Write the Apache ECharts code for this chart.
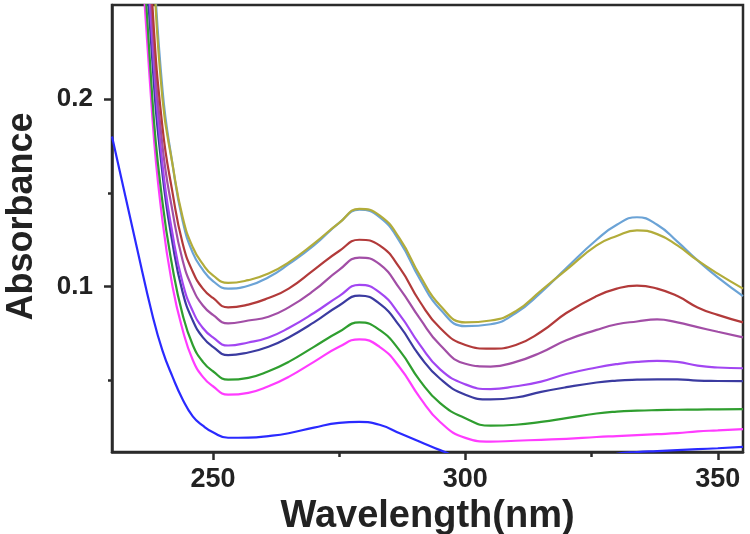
<!DOCTYPE html>
<html>
<head>
<meta charset="utf-8">
<script src="https://cdn.jsdelivr.net/npm/echarts@6/dist/echarts.min.js"></script>
<style>html,body{margin:0;padding:0;background:#fff}#c{width:750px;height:534px}</style>
</head>
<body>
<div id="c"></div>
<script>
// Wavelength sample points (nm)
const wavelengths = [230, 235, 238, 240, 242, 244, 246, 248, 250, 253, 257, 261, 265, 270, 275, 279, 283, 287, 291, 295, 300, 305, 310, 315, 320, 326, 330, 334, 338, 342, 346, 350, 355];

// Absorbance spectra
const olive    = [0.80, 0.42, 0.28, 0.200, 0.165, 0.137, 0.121, 0.112, 0.106, 0.102, 0.1035, 0.107, 0.113, 0.123, 0.134, 0.1415, 0.138, 0.1256, 0.106, 0.090, 0.081, 0.082, 0.087, 0.098, 0.109, 0.122, 0.127, 0.130, 0.128, 0.122, 0.114, 0.107, 0.099];
const skyblue  = [0.80, 0.43, 0.285, 0.205, 0.165, 0.135, 0.118, 0.109, 0.103, 0.099, 0.1005, 0.105, 0.112, 0.122, 0.134, 0.141, 0.137, 0.124, 0.104, 0.088, 0.079, 0.080, 0.086, 0.097, 0.110, 0.125, 0.133, 0.137, 0.133, 0.124, 0.114, 0.105, 0.095];
const darkred  = [0.78, 0.40, 0.25, 0.185, 0.150, 0.123, 0.108, 0.099, 0.094, 0.089, 0.0905, 0.094, 0.099, 0.109, 0.119, 0.125, 0.122, 0.110, 0.092, 0.078, 0.069, 0.067, 0.069, 0.076, 0.086, 0.095, 0.099, 0.1006, 0.099, 0.095, 0.089, 0.085, 0.081];
const mauve    = [0.76, 0.39, 0.24, 0.175, 0.140, 0.114, 0.099, 0.090, 0.085, 0.0805, 0.082, 0.084, 0.089, 0.098, 0.109, 0.1155, 0.112, 0.099, 0.083, 0.069, 0.059, 0.0575, 0.060, 0.065, 0.0715, 0.077, 0.080, 0.0815, 0.0826, 0.081, 0.0785, 0.076, 0.073];
const violet   = [0.74, 0.37, 0.23, 0.165, 0.128, 0.102, 0.087, 0.078, 0.073, 0.0687, 0.0703, 0.073, 0.078, 0.086, 0.095, 0.101, 0.097, 0.085, 0.069, 0.056, 0.048, 0.0455, 0.047, 0.0495, 0.0535, 0.057, 0.0588, 0.060, 0.0605, 0.060, 0.058, 0.057, 0.0566];
const navy     = [0.72, 0.36, 0.22, 0.160, 0.123, 0.097, 0.082, 0.073, 0.068, 0.0636, 0.065, 0.068, 0.073, 0.081, 0.090, 0.0953, 0.091, 0.079, 0.063, 0.051, 0.0425, 0.040, 0.041, 0.044, 0.0465, 0.049, 0.050, 0.0505, 0.0507, 0.0507, 0.050, 0.0498, 0.0497];
const green    = [0.70, 0.35, 0.20, 0.145, 0.110, 0.085, 0.069, 0.060, 0.055, 0.0505, 0.0515, 0.055, 0.060, 0.068, 0.076, 0.081, 0.077, 0.066, 0.050, 0.038, 0.030, 0.026, 0.0265, 0.028, 0.030, 0.0325, 0.0335, 0.034, 0.0343, 0.0345, 0.0346, 0.0347, 0.0348];
const magenta  = [0.68, 0.33, 0.19, 0.135, 0.100, 0.077, 0.061, 0.052, 0.047, 0.0425, 0.0435, 0.047, 0.052, 0.060, 0.068, 0.072, 0.068, 0.057, 0.041, 0.028, 0.0195, 0.0175, 0.018, 0.0185, 0.019, 0.020, 0.0205, 0.021, 0.0215, 0.022, 0.023, 0.0235, 0.0242];
const blue     = [0.180, 0.120, 0.085, 0.066, 0.052, 0.040, 0.031, 0.026, 0.0225, 0.0196, 0.0197, 0.0205, 0.022, 0.025, 0.0275, 0.028, 0.0265, 0.022, 0.0175, 0.013, 0.008, 0.005, 0.004, 0.004, 0.005, 0.008, 0.011, 0.012, 0.0125, 0.013, 0.0135, 0.014, 0.0147];

const seriesList = [
  {name: 'blue', values: blue, color: '#2a2aff'},
  {name: 'magenta', values: magenta, color: '#ff3cff'},
  {name: 'green', values: green, color: '#2f9e2f'},
  {name: 'navy', values: navy, color: '#3b3ba0'},
  {name: 'violet', values: violet, color: '#a246f2'},
  {name: 'mauve', values: mauve, color: '#a24ea6'},
  {name: 'darkred', values: darkred, color: '#b23a3a'},
  {name: 'skyblue', values: skyblue, color: '#6ba3d6'},
  {name: 'olive', values: olive, color: '#b2ac3a'}
];

const xMajor = [250, 300, 350];
const xMinor = [275, 325];
const yMajor = [0.1, 0.2];
const yMinor = [0.05, 0.15];

const FONT = '"Liberation Sans", Arial, sans-serif';
const AX = '#2b2b2b';

const chart = echarts.init(document.getElementById('c'), null, {renderer: 'canvas'});
chart.setOption({
  animation: false,
  backgroundColor: '#fff',
  grid: {left: 112, top: 5, right: 7, bottom: 82, containLabel: false, outerBoundsMode: 'none',
         show: true, borderColor: AX, borderWidth: 2.5, backgroundColor: 'transparent'},
  xAxis: [
    {
      type: 'value', min: 230, max: 355, position: 'bottom',
      name: 'Wavelength(nm)', nameLocation: 'middle', nameGap: 33,
      nameTextStyle: {fontFamily: FONT, fontWeight: 'bold', fontSize: 38, color: '#222'},
      axisLine: {show: true, lineStyle: {color: AX, width: 2.5}},
      axisTick: {show: true, inside: false, length: 8, lineStyle: {color: AX, width: 2.5}, customValues: xMajor},
      axisLabel: {show: true, margin: 14, fontFamily: FONT, fontWeight: 'bold', fontSize: 27, color: '#222', customValues: xMajor},
      splitLine: {show: false}
    },
    {
      type: 'value', min: 230, max: 355, position: 'bottom', gridIndex: 0,
      axisLine: {show: false},
      axisTick: {show: true, inside: false, length: 5, lineStyle: {color: AX, width: 2.5}, customValues: xMinor},
      axisLabel: {show: false},
      splitLine: {show: false}
    }
  ],
  yAxis: [
    {
      type: 'value', min: 0.012, max: 0.25, position: 'left',
      name: 'Absorbance', nameLocation: 'middle', nameGap: 72, nameRotate: 90,
      nameTextStyle: {fontFamily: FONT, fontWeight: 'bold', fontSize: 36, color: '#222', padding: [0, 0, 0, 24]},
      axisLine: {show: true, lineStyle: {color: AX, width: 2.5}},
      axisTick: {show: true, inside: false, length: 8, lineStyle: {color: AX, width: 2.5}, customValues: yMajor},
      axisLabel: {show: true, margin: 19, fontFamily: FONT, fontWeight: 'bold', fontSize: 26, color: '#222', customValues: yMajor,
        formatter: v => (Math.round(v * 10) / 10).toFixed(1)},
      splitLine: {show: false}
    },
    {
      type: 'value', min: 0.012, max: 0.25, position: 'left',
      axisLine: {show: false},
      axisTick: {show: true, inside: false, length: 4, lineStyle: {color: AX, width: 2.5}, customValues: yMinor},
      axisLabel: {show: false},
      splitLine: {show: false}
    }
  ],
  series: seriesList.map(s => ({
    name: s.name,
    type: 'line',
    xAxisIndex: 0, yAxisIndex: 0,
    data: wavelengths.map((w, i) => [w, s.values[i]]),
    showSymbol: false,
    smooth: 0.5,
    clip: true,
    lineStyle: {color: s.color, width: 2.2},
    itemStyle: {color: s.color}
  }))
});
</script>
</body>
</html>
